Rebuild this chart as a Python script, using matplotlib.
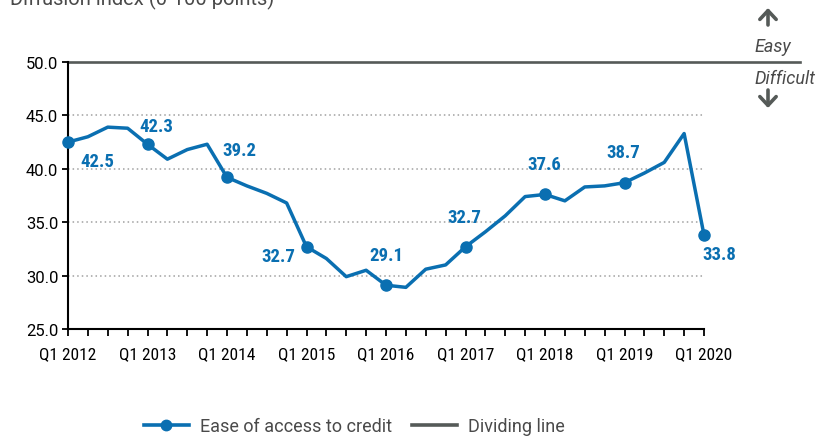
import matplotlib
matplotlib.use("Agg")
import matplotlib.pyplot as plt
import numpy as np
from matplotlib.lines import Line2D
from matplotlib.patches import FancyArrowPatch

plt.rcParams['font.family'] = ['Roboto', 'DejaVu Sans']
COND = ['Roboto Condensed', 'Roboto', 'DejaVu Sans']

quarters = [f"Q{q} {y}" for y in range(2012, 2021) for q in range(1, 5)][:33]
values = [42.5, 43.0, 43.9, 43.8,
          42.3, 40.9, 41.8, 42.3,
          39.2, 38.4, 37.7, 36.8,
          32.7, 31.6, 29.9, 30.5,
          29.1, 28.9, 30.6, 31.0,
          32.7, 34.1, 35.6, 37.4,
          37.6, 37.0, 38.3, 38.4,
          38.7, 39.6, 40.6, 43.3,
          33.8]
marker_idx = [0, 4, 8, 12, 16, 20, 24, 28, 32]
label_offsets = [(29, -19), (9, 18), (12, 27), (-28, -9), (0, 30),
                 (-1, 30), (-1, 30), (-1, 31), (15, -19)]
tick_labels = [quarters[i] for i in marker_idx]
yticks = [25.0, 30.0, 35.0, 40.0, 45.0, 50.0]
dividing_value = 50.0

blue = '#0a6fb1'
gray = '#555a58'
text_gray = '#4a4a4a'

W, H = 831, 439
fig = plt.figure(figsize=(W / 100, H / 100), dpi=100)
ax = fig.add_axes([68 / W, 1 - 330 / H, (704 - 68) / W, (330 - 63) / H])

x = np.arange(len(values))
ax.plot(x, values, color=blue, lw=2.5, zorder=3, clip_on=False)
ax.plot(x[marker_idx], [values[i] for i in marker_idx], 'o', color=blue,
        ms=8, zorder=4, clip_on=False)
for i, (dx, dy) in zip(marker_idx, label_offsets):
    ax.annotate(f"{values[i]:.1f}", (x[i], values[i]), xytext=(dx, dy),
                textcoords='offset pixels', ha='center', va='center',
                fontsize=13.5, fontweight='bold', color=blue, zorder=5,
                family=COND)

# dividing line extends beyond plot area
ax.axhline(dividing_value, xmin=0, xmax=(800 - 68) / (704 - 68), color=gray,
           lw=1.9, clip_on=False, zorder=2)

for yv in yticks[1:-1]:
    ax.axhline(yv, color='#a0a0a0', lw=1.1, ls=(0, (1, 2)), zorder=1)

ax.set_xlim(0, 32)
ax.set_ylim(25, 50)
ax.set_yticks(yticks)
ax.set_yticklabels([f"{v:.1f}" for v in yticks])
ax.set_xticks(x, minor=True)
ax.set_xticks(marker_idx)
ax.set_xticklabels(tick_labels, family=COND)
ax.tick_params(axis='x', which='both', direction='out', length=5, width=1.3,
               color='black', labelsize=12.5, pad=7)
ax.tick_params(axis='y', direction='out', length=4, width=1.3,
               labelsize=12, pad=3)
for s in ['top', 'right']:
    ax.spines[s].set_visible(False)
for s in ['left', 'bottom']:
    ax.spines[s].set_linewidth(1.5)

# Title (cut off at top, as in the reference)
fig.text(10 / W, 1 - 5 / H, "Diffusion index (0-100 points)", fontsize=14.5,
         color=text_gray, va='baseline', ha='left')

# Easy / Difficult annotation
arrow_kw = dict(arrowstyle='->,head_length=0.45,head_width=0.42', lw=2.6,
                color=gray, shrinkA=0, shrinkB=0, mutation_scale=14,
                transform=fig.transFigure)
fig.add_artist(FancyArrowPatch((768 / W, 1 - 26 / H), (768 / W, 1 - 9 / H),
                               **arrow_kw))
fig.add_artist(FancyArrowPatch((768 / W, 1 - 91 / H), (768 / W, 1 - 109 / H),
                               **arrow_kw))
fig.text(754 / W, 1 - 47 / H, "Easy", fontsize=13, style='italic',
         color=text_gray, ha='left', va='center')
fig.text(754 / W, 1 - 79 / H, "Difficult", fontsize=13, style='italic',
         color=text_gray, ha='left', va='center')

# Legend
handles = [Line2D([0], [0], color=blue, lw=2.6, marker='o', ms=7.5),
           Line2D([0], [0], color=gray, lw=2.6)]
leg = fig.legend(handles, ["Ease of access to credit", "Dividing line"],
                 loc='center', bbox_to_anchor=(354 / W, 1 - 427 / H), ncol=2,
                 frameon=False, fontsize=13, handlelength=2.5,
                 handletextpad=0.6, columnspacing=1.1, markerscale=1)
for t in leg.get_texts():
    t.set_color(text_gray)

fig.savefig("out.png", dpi=100)
